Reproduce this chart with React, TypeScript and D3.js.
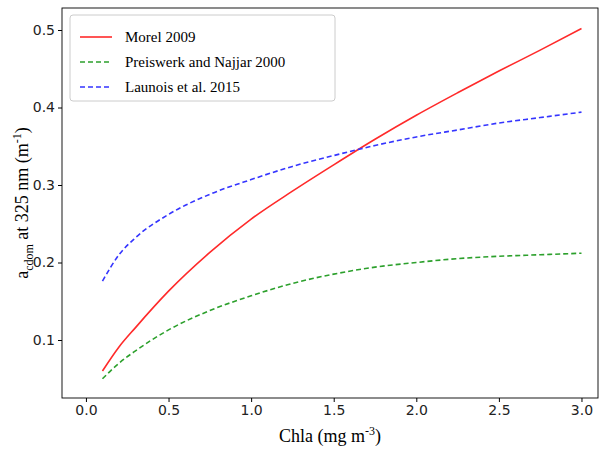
import { useEffect, useRef } from 'react';
import * as d3 from 'd3';

const chla = [0.1, 0.2, 0.3, 0.5, 0.75, 1.0, 1.25, 1.5, 1.75, 2.0, 2.25, 2.5, 2.75, 3.0];
const morel = [0.06, 0.091, 0.116, 0.163, 0.213, 0.256, 0.292, 0.326, 0.359, 0.39, 0.419, 0.447, 0.474, 0.502];
const preiswerk = [0.05, 0.07, 0.086, 0.113, 0.138, 0.157, 0.173, 0.185, 0.194, 0.2, 0.205, 0.208, 0.21, 0.212];
const launois = [0.176, 0.21, 0.232, 0.262, 0.288, 0.307, 0.324, 0.338, 0.351, 0.362, 0.371, 0.38, 0.387, 0.394];
const xTicks = [0, 0.5, 1.0, 1.5, 2.0, 2.5, 3.0];
const yTicks = [0.1, 0.2, 0.3, 0.4, 0.5];

const series = [
  { name: 'Morel 2009', values: morel, color: '#ff2a2a', dash: null },
  { name: 'Preiswerk and Najjar 2000', values: preiswerk, color: '#2ca02c', dash: '5,3' },
  { name: 'Launois et al. 2015', values: launois, color: '#3535ff', dash: '5,3' },
];

export default function App() {
  const svgRef = useRef<SVGSVGElement>(null);

  useEffect(() => {
    if (!svgRef.current) return;
    const svg = d3.select(svgRef.current);
    svg.selectAll('*').remove();

    const left = 62, right = 598, top = 8, bottom = 398;
    const x = d3.scaleLinear().domain([-0.145, 3.1]).range([left, right]);
    const y = d3.scaleLinear().domain([0.1, 0.5]).range([340, 30]);

    const g = svg.append('g');

    g.append('g')
      .attr('transform', `translate(0,${bottom})`)
      .call(d3.axisBottom(x).tickValues(xTicks).tickFormat(d3.format('.1f')).tickSizeOuter(0).tickSize(4))
      .call(a => a.select('.domain').remove())
      .selectAll('text')
      .style('font-family', 'DejaVu Sans')
      .style('font-size', '14px')
      .style('fill', '#222');

    g.append('g')
      .attr('transform', `translate(${left},0)`)
      .call(d3.axisLeft(y).tickValues(yTicks).tickFormat(d3.format('.1f')).tickSizeOuter(0).tickSize(4))
      .call(a => a.select('.domain').remove())
      .selectAll('text')
      .style('font-family', 'DejaVu Sans')
      .style('font-size', '14px')
      .style('fill', '#222');

    const line = d3.line<number>()
      .x((_, i) => x(chla[i]))
      .y(d => y(d))
      .curve(d3.curveMonotoneX);

    series.forEach(s => {
      g.append('path')
        .datum(s.values)
        .attr('fill', 'none')
        .attr('stroke', s.color)
        .attr('stroke-width', 1.6)
        .attr('stroke-dasharray', s.dash)
        .attr('d', line);
    });

    g.append('rect')
      .attr('x', left).attr('y', top)
      .attr('width', right - left).attr('height', bottom - top)
      .attr('fill', 'none').attr('stroke', '#000').attr('stroke-width', 0.9);

    // legend
    const lg = g.append('g').attr('transform', 'translate(70,15)');
    lg.append('rect')
      .attr('width', 265).attr('height', 86).attr('rx', 3)
      .attr('fill', 'white').attr('stroke', '#ccc');
    series.forEach((s, i) => {
      const yy = 22 + i * 25;
      lg.append('line')
        .attr('x1', 10).attr('x2', 42).attr('y1', yy).attr('y2', yy)
        .attr('stroke', s.color).attr('stroke-width', 1.6)
        .attr('stroke-dasharray', s.dash);
      lg.append('text')
        .attr('x', 55).attr('y', yy + 5)
        .style('font-family', 'Liberation Serif')
        .style('font-size', '15px')
        .text(s.name);
    });

    const xl = g.append('text')
      .attr('x', (left + right) / 2).attr('y', 442)
      .attr('text-anchor', 'middle')
      .style('font-family', 'Liberation Serif')
      .style('font-size', '18px');
    xl.append('tspan').text('Chla (mg m');
    xl.append('tspan').attr('dy', -7).style('font-size', '12px').text('-3');
    xl.append('tspan').attr('dy', 7).text(')');

    const yl = g.append('text')
      .attr('transform', `translate(28,${(top + bottom) / 2}) rotate(-90)`)
      .attr('text-anchor', 'middle')
      .style('font-family', 'Liberation Serif')
      .style('font-size', '18px');
    yl.append('tspan').text('a');
    yl.append('tspan').attr('dy', 5).style('font-size', '12px').text('cdom');
    yl.append('tspan').attr('dy', -5).text(' at 325 nm (m');
    yl.append('tspan').attr('dy', -7).style('font-size', '12px').text('-1');
    yl.append('tspan').attr('dy', 7).text(')');
  }, []);

  return <svg ref={svgRef} width={600} height={449} style={{ display: 'block', position: 'absolute', left: 0, top: 0 }} />;
}
